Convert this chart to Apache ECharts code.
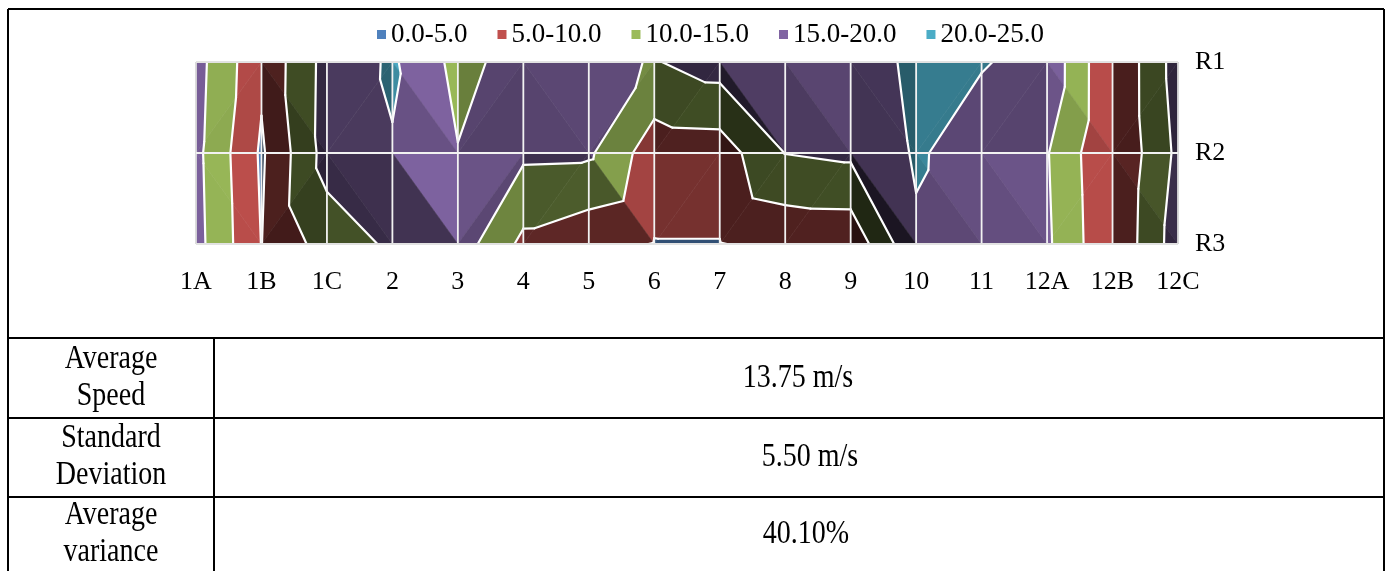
<!DOCTYPE html>
<html>
<head>
<meta charset="utf-8">
<script src="https://cdn.jsdelivr.net/npm/echarts@6/dist/echarts.min.js"></script>
<style>
  html, body { margin: 0; padding: 0; background: #ffffff; }
  #chart { width: 1390px; height: 571px; }
</style>
</head>
<body>
<div id="chart"></div>
<script>
// Measurement positions along the section and the three survey rows
const columns = ['1A', '1B', '1C', '2', '3', '4', '5', '6', '7', '8', '9', '10', '11', '12A', '12B', '12C'];
const rows = ['R1', 'R2', 'R3'];

// Wind speed (m/s) at each position, one array per row
const speedR1 = [16.8, 6.0, 16.8, 20.7, 13.5, 17.0, 16.4, 14.7, 17.25, 17.5, 17.0, 21.2, 20.26, 18.7, 5.1, 17.2];
const speedR2 = [16.3, 4.3, 17.0, 19.64, 15.2, 15.93, 15.75, 7.2, 7.45, 15.1, 16.0, 20.47, 18.1, 15.3, 5.05, 16.1];
const speedR3 = [16.7, 4.9, 12.3, 15.8, 17.7, 8.8, 6.5, 4.85, 4.85, 6.2, 6.3, 19.4, 17.96, 15.8, 5.4, 17.6];

// Contour bands
const bandNames = ['0.0-5.0', '5.0-10.0', '10.0-15.0', '15.0-20.0', '20.0-25.0'];
const bandEdges = [0, 5, 10, 15, 20, 25];
const bandColors = ['#4F81BD', '#C0504D', '#9BBB59', '#8064A2', '#4BACC6'];

// Summary table
const statLabels = [['Average', 'Speed'], ['Standard', 'Deviation'], ['Average', 'variance']];
const statValues = ['13.75 m/s', '5.50 m/s', '40.10%'];

const surface = [speedR1, speedR2, speedR3];
const nCols = columns.length;
const nRows = rows.length;
const SERIF = '"Liberation Serif", "Times New Roman", serif';

// Each grid cell is split in two triangles along the diagonal with the larger sum
function cellTriangles(i, j) {
  const a = surface[j][i], b = surface[j][i + 1], c = surface[j + 1][i], d = surface[j + 1][i + 1];
  const TL = [i, j, a], TR = [i + 1, j, b], BL = [i, j + 1, c], BR = [i + 1, j + 1, d];
  if (a + d >= b + c) return [[TL, TR, BR], [TL, BL, BR]];
  return [[TL, TR, BL], [TR, BL, BR]];
}

// Lighting of a facet from its slope (value change per column / per row)
function facetShade(tri) {
  const [p0, p1, p2] = tri;
  const dx1 = p1[0] - p0[0], dy1 = p1[1] - p0[1], dv1 = p1[2] - p0[2];
  const dx2 = p2[0] - p0[0], dy2 = p2[1] - p0[1], dv2 = p2[2] - p0[2];
  const det = dx1 * dy2 - dx2 * dy1;
  const fx = (dv1 * dy2 - dv2 * dy1) / det;
  const fy = (dx1 * dv2 - dx2 * dv1) / det;
  const s = 0.1;
  let nx = -s * fx, ny = -s * fy, nz = 1;
  const len = Math.sqrt(nx * nx + ny * ny + nz * nz);
  nx /= len; ny /= len; nz /= len;
  const ky = ny > 0 ? 0.37 : 0.6;
  return 0.58 + 0.37 * nx - ky * ny + 0.133 * nz;
}

function shadeColor(hex, f) {
  const r = parseInt(hex.slice(1, 3), 16), g = parseInt(hex.slice(3, 5), 16), b = parseInt(hex.slice(5, 7), 16);
  const c = v => Math.max(0, Math.min(255, Math.round(v * f)));
  return 'rgb(' + c(r) + ',' + c(g) + ',' + c(b) + ')';
}

// Sutherland–Hodgman clip of a polygon against v >= level (above) or v <= level
function clipPoly(poly, level, keepAbove) {
  const out = [];
  for (let n = 0; n < poly.length; n++) {
    const P = poly[n], Q = poly[(n + 1) % poly.length];
    const pin = keepAbove ? P[2] >= level : P[2] <= level;
    const qin = keepAbove ? Q[2] >= level : Q[2] <= level;
    if (pin) out.push(P);
    if (pin !== qin) {
      const t = (level - P[2]) / (Q[2] - P[2]);
      out.push([P[0] + t * (Q[0] - P[0]), P[1] + t * (Q[1] - P[1]), level]);
    }
  }
  return out;
}

function toPixel(api, p) {
  const pt = api.coord([p[0], p[1]]);
  return [pt[0], pt[1], p[2]];
}

// One item per facet: [column index, row index, half]
const facetItems = [];
for (let j = 0; j < nRows - 1; j++) {
  for (let i = 0; i < nCols - 1; i++) {
    facetItems.push([i, j, 0]);
    facetItems.push([i, j, 1]);
  }
}

function bandSeries(k) {
  const lo = bandEdges[k], hi = bandEdges[k + 1];
  return {
    name: bandNames[k],
    type: 'custom',
    z: 2,
    itemStyle: { color: bandColors[k] },
    encode: { x: 0, y: 1 },
    data: facetItems,
    silent: true,
    renderItem: function (params, api) {
      const i = api.value(0), j = api.value(1), h = api.value(2);
      const tri = cellTriangles(i, j)[h];
      let poly = tri.map(p => toPixel(api, p));
      poly = clipPoly(poly, lo, true);
      if (poly.length >= 3) poly = clipPoly(poly, hi, false);
      if (poly.length < 3) return null;
      const col = shadeColor(bandColors[k], facetShade(tri));
      return {
        type: 'polygon',
        shape: { points: poly.map(p => [p[0], p[1]]) },
        style: { fill: col, stroke: col, lineWidth: 0.6 }
      };
    }
  };
}

// Gridlines and contour lines drawn on top of the bands
const overlaySeries = {
  type: 'custom',
  z: 5,
  silent: true,
  encode: { x: 0, y: 1 },
  data: [[0, 0]],
  renderItem: function (params, api) {
    const children = [];
    const levels = bandEdges.slice(1, -1);
    for (let j = 0; j < nRows - 1; j++) {
      for (let i = 0; i < nCols - 1; i++) {
        cellTriangles(i, j).forEach(tri => {
          const px = tri.map(p => toPixel(api, p));
          levels.forEach(L => {
            const pts = [];
            for (let e = 0; e < 3; e++) {
              const P = px[e], Q = px[(e + 1) % 3];
              if ((P[2] - L) * (Q[2] - L) < 0) {
                const t = (L - P[2]) / (Q[2] - P[2]);
                pts.push([P[0] + t * (Q[0] - P[0]), P[1] + t * (Q[1] - P[1])]);
              }
            }
            if (pts.length === 2) {
              children.push({
                type: 'line',
                shape: { x1: pts[0][0], y1: pts[0][1], x2: pts[1][0], y2: pts[1][1] },
                style: { stroke: '#ffffff', lineWidth: 2.2, lineCap: 'round' }
              });
            }
          });
        });
      }
    }
    for (let i = 0; i < nCols; i++) {
      const a = api.coord([i, 0]), b = api.coord([i, nRows - 1]);
      children.push({
        type: 'line',
        shape: { x1: a[0], y1: a[1], x2: b[0], y2: b[1] },
        style: { stroke: (i === 0 || i === nCols - 1) ? '#dcdcdc' : '#f2f2f2', lineWidth: 1.8 }
      });
    }
    for (let j = 0; j < nRows; j++) {
      const a = api.coord([0, j]), b = api.coord([nCols - 1, j]);
      children.push({
        type: 'line',
        shape: { x1: a[0], y1: a[1], x2: b[0], y2: b[1] },
        style: { stroke: (j === 0 || j === nRows - 1) ? '#e2e2e2' : '#f2f2f2', lineWidth: 1.8 }
      });
    }
    return { type: 'group', children: children };
  }
};

// Summary table drawn as graphic elements
const tableTop = 338, rowH = [80, 79, 74], leftX = 8, rightX = 1384, splitX = 214;
const valueCenters = [798, 810, 806];
const textScaleY = 1.18;
const tableGraphics = [];
const frame = (x1, y1, x2, y2) => tableGraphics.push({
  type: 'line', shape: { x1, y1, x2, y2 }, style: { stroke: '#000', lineWidth: 2 }, silent: true
});
const cellText = (text, x, y) => tableGraphics.push({
  type: 'text', silent: true, x: x, y: y, scaleY: textScaleY,
  style: { text: text, x: 0, y: 0, align: 'center', verticalAlign: 'middle', font: '28px ' + SERIF, fill: '#000' }
});
frame(leftX, 9, rightX, 9);
frame(leftX, 9, leftX, 571);
frame(rightX, 9, rightX, 571);
let yCursor = tableTop;
for (let r = 0; r < statLabels.length; r++) {
  frame(leftX, yCursor, rightX, yCursor);
  const mid = yCursor + rowH[r] / 2;
  cellText(statLabels[r][0], (leftX + splitX) / 2, mid - 19);
  cellText(statLabels[r][1], (leftX + splitX) / 2, mid + 18);
  cellText(statValues[r], valueCenters[r], mid);
  yCursor += rowH[r];
}
frame(splitX, tableTop, splitX, 571);

const chart = echarts.init(document.getElementById('chart'), null, { renderer: 'canvas' });
chart.setOption({
  animation: false,
  backgroundColor: '#ffffff',
  legend: {
    data: bandNames,
    top: 16,
    left: 372,
    icon: 'rect',
    itemWidth: 9,
    itemHeight: 9,
    itemGap: 30,
    selectedMode: false,
    textStyle: { fontFamily: SERIF, fontSize: 27, color: '#000' }
  },
  grid: { left: 196, right: 212, top: 62, bottom: 327 },
  xAxis: {
    type: 'category',
    data: columns,
    boundaryGap: false,
    axisLine: { show: false },
    axisTick: { show: false },
    splitLine: { show: false },
    axisLabel: { interval: 0, margin: 25, fontFamily: SERIF, fontSize: 26, color: '#000' }
  },
  yAxis: {
    type: 'category',
    data: rows,
    inverse: true,
    position: 'right',
    boundaryGap: false,
    axisLine: { show: false },
    axisTick: { show: false },
    splitLine: { show: false },
    axisLabel: { margin: 17, fontFamily: SERIF, fontSize: 26, color: '#000' }
  },
  series: bandNames.map((_, k) => bandSeries(k)).concat([overlaySeries]),
  graphic: tableGraphics
});
</script>
</body>
</html>
